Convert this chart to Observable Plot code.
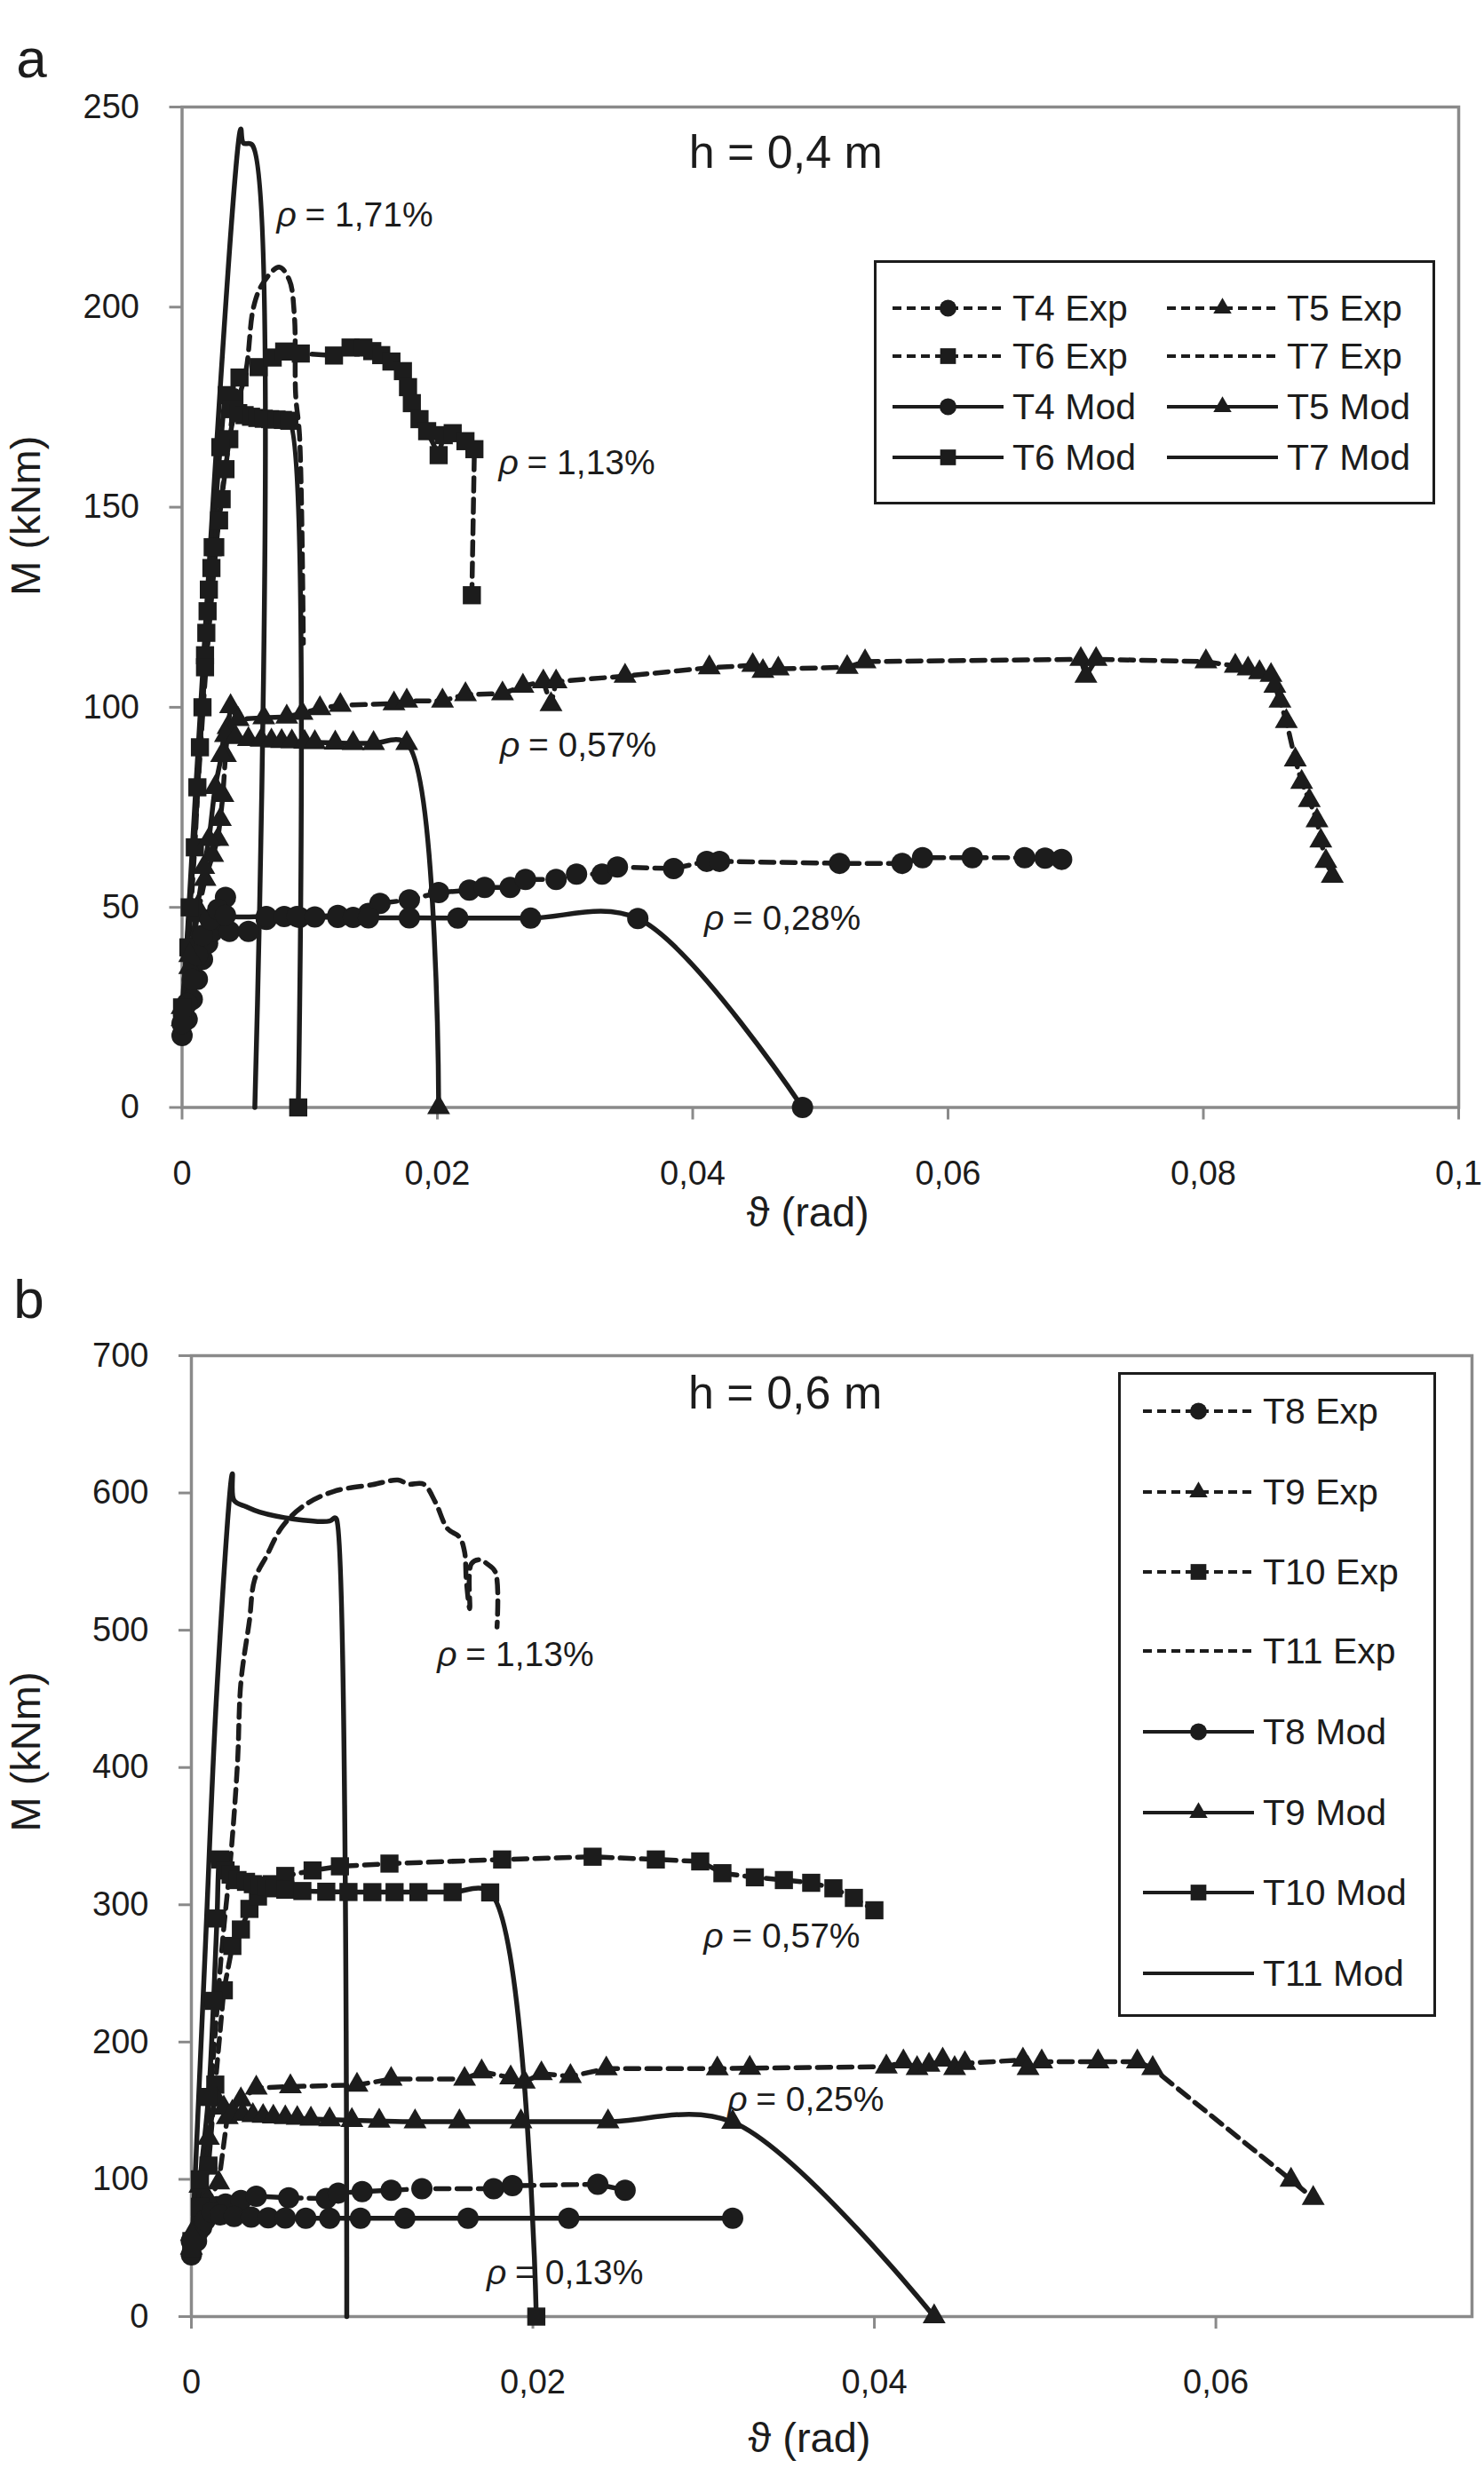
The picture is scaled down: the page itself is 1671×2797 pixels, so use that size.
<!DOCTYPE html>
<html>
<head>
<meta charset="utf-8">
<script src="https://cdn.jsdelivr.net/npm/d3@7"></script>
<script src="https://cdn.jsdelivr.net/npm/@observablehq/plot@0.6"></script>
<style>
  body { margin: 0; background: #fff; }
  #page { position: relative; width: 1671px; height: 2797px; font-family: "Liberation Sans", Arial, sans-serif; color: #1c1c1c; }
  #page > svg { position: absolute; left: 0; }
  .legend { position: absolute; box-sizing: border-box; border: 3px solid #1c1c1c; background: #fff; }
  .legend .item { position: absolute; display: flex; align-items: center; height: 44px; font-size: 41px; white-space: nowrap; }
  .legend .item span { margin-left: 10px; }
</style>
</head>
<body>
<div id="page"></div>
<script>
// ---- panel a : h = 0,4 m  (theta in rad, M in kNm)
const T4_EXP = [[0,18],[0.0004,22],[0.0008,27],[0.0012,32],[0.0016,37],[0.002,41],[0.0024,44],[0.0029,47],[0.0034,52.5],[0.0037,44],[0.0052,44],[0.0066,47],[0.0092,47.5],[0.0122,48],[0.0146,48.5],[0.0155,51],[0.0178,51.9],[0.0201,53.7],[0.0225,54.3],[0.0237,55],[0.0257,55],[0.0269,57],[0.0293,57],[0.0309,58.3],[0.0329,58.3],[0.0341,60.1],[0.0385,59.7],[0.0411,61.5],[0.0421,61.5],[0.0515,61],[0.0564,61],[0.058,62.4],[0.0619,62.4],[0.066,62.4],[0.0676,62.3],[0.0689,62]];
const T4_MOD = [[0,21],[0.0004,26],[0.0008,32],[0.0012,38],[0.0016,43],[0.0022,47],[0.0028,49.5],[0.0034,48],[0.0066,47.7],[0.008,47.7],[0.009,47.7],[0.0104,47.6],[0.0122,47.5],[0.0134,47.5],[0.0146,47.4],[0.0178,47.4],[0.0216,47.3],[0.0273,47.3],[0.0357,47.2],[0.0486,0]];
const T5_EXP = [[0,22],[0.0006,35],[0.0012,48],[0.0018,57],[0.0024,63],[0.0028,67],[0.003,72],[0.0032,78],[0.0034,88],[0.0036,95],[0.0038,100.2],[0.0044,97],[0.0064,97.4],[0.0082,97.6],[0.0094,98.5],[0.0108,99.7],[0.0124,100.5],[0.0166,100.9],[0.0176,101.6],[0.0204,101.6],[0.0222,103.2],[0.0251,103.4],[0.0267,105.3],[0.0283,106.4],[0.0289,100.7],[0.0293,106.4],[0.0347,107.8],[0.0413,109.9],[0.0447,110.5],[0.0455,109],[0.0467,109.6],[0.0521,110],[0.0535,111.4],[0.0704,112],[0.0708,107.8],[0.0716,112],[0.0802,111.4],[0.0825,110.3],[0.0835,109.6],[0.0844,108.7],[0.0853,108],[0.0856,105.3],[0.086,101.6],[0.0865,96.5],[0.0872,86.9],[0.0877,81.3],[0.0883,76.7],[0.0889,71.7],[0.0892,66.6],[0.0896,61.5],[0.0901,57.8]];
const T5_MOD = [[0,25],[0.0006,38],[0.0012,50],[0.0017,60],[0.0021,67],[0.0026,80],[0.0031,88],[0.0034,93],[0.0042,92.5],[0.0052,92],[0.0062,91.8],[0.007,91.6],[0.0078,91.5],[0.0086,91.4],[0.0096,91.3],[0.0104,91.2],[0.012,91.1],[0.0134,91],[0.015,91],[0.0176,91],[0.0201,0]];
const T6_EXP = [[0,22],[0.0005,40],[0.001,65],[0.0014,90],[0.0016,100],[0.0018,113],[0.0019,118.6],[0.002,124],[0.0021,129.4],[0.0023,134.8],[0.0026,140],[0.0029,146.7],[0.0031,152],[0.0034,159.5],[0.0037,167],[0.0041,177],[0.0045,182.4],[0.006,185],[0.0071,187.4],[0.008,188.9],[0.0093,188.4],[0.0119,187.9],[0.0132,189.9],[0.0142,189.9],[0.0149,189],[0.0156,188],[0.0164,186.4],[0.0173,184],[0.0177,180],[0.018,176],[0.0186,172],[0.0192,169],[0.0201,163],[0.0205,168],[0.0212,168.5],[0.0222,166.5],[0.0229,164.5],[0.0227,128]];
const T6_MOD = [[0,25],[0.0006,50],[0.0012,80],[0.0018,110],[0.0024,140],[0.003,165],[0.0035,178],[0.0039,174.5],[0.0044,173.5],[0.0049,173],[0.0054,172.6],[0.0059,172.3],[0.0064,172.1],[0.0069,172],[0.0074,171.9],[0.0079,171.8],[0.0084,171.6],[0.0091,0]];
const T7_EXP = [[0,20],[0.001,68],[0.002,115],[0.003,150],[0.004,172],[0.005,184],[0.0056,200],[0.0063,205.8],[0.0076,210],[0.0084,206.8],[0.0088,197.8],[0.0089,178],[0.0092,168],[0.0095,116]];
const T7_MOD = [[0,20],[0.0046,244.5],[0.0048,241],[0.0055,240.5],[0.0057,0]];

// ---- panel b : h = 0,6 m
const T8_EXP = [[0,45],[0.0003,55],[0.0006,65],[0.001,75],[0.0015,80],[0.002,82],[0.0029,84.6],[0.0038,87.7],[0.0057,86.5],[0.0079,86],[0.0086,90],[0.01,91],[0.0117,92],[0.0135,93.2],[0.0177,93.2],[0.0188,95.4],[0.0238,96.4],[0.0254,92.1]];
const T8_MOD = [[0,55],[0.0004,62],[0.0008,70],[0.0012,76],[0.0017,74],[0.0025,73],[0.0035,72.5],[0.0045,72],[0.0055,71.8],[0.0067,71.6],[0.0081,71.6],[0.0099,71.6],[0.0125,71.6],[0.0162,71.6],[0.0221,71.6],[0.0317,71.6]];
const T9_EXP = [[0,50],[0.0005,70],[0.001,85],[0.0016,97.5],[0.0021,145],[0.0029,158],[0.0038,166.6],[0.0058,167.6],[0.0097,168.7],[0.0117,173],[0.016,173],[0.017,178.4],[0.0187,174],[0.0195,170.9],[0.0205,177],[0.0222,175],[0.0243,180.6],[0.0308,180.6],[0.0327,181],[0.0407,182],[0.0417,185.7],[0.0425,180.8],[0.0432,183.3],[0.044,187],[0.0447,180.8],[0.0453,184.5],[0.0487,187],[0.049,180.8],[0.0498,185.7],[0.0531,185.7],[0.0554,185.7],[0.0563,180.8],[0.0644,99.5],[0.0657,86.2]];
const T9_MOD = [[0,60],[0.0005,95],[0.001,130],[0.0015,158],[0.0019,152],[0.0024,149],[0.003,147.5],[0.0036,146.5],[0.0042,146],[0.0048,145.5],[0.0055,145],[0.0062,144.5],[0.007,144],[0.0081,143.5],[0.0094,143],[0.011,142.5],[0.0131,142],[0.0157,142],[0.0193,142],[0.0244,142],[0.0317,141.7],[0.0435,0]];
const T10_EXP = [[0,55],[0.0005,80],[0.001,110],[0.0014,169],[0.0019,237.7],[0.0024,270],[0.0029,282],[0.0034,297],[0.0039,306],[0.0047,315],[0.0055,321],[0.0071,325],[0.0087,328],[0.0116,330],[0.0182,333],[0.0235,335],[0.0272,333],[0.0298,331.6],[0.0311,323],[0.033,320],[0.0347,318],[0.0363,316],[0.0376,312],[0.0388,305],[0.04,296]];
const T10_MOD = [[0,50],[0.0005,100],[0.001,160],[0.0013,230],[0.0015,290],[0.0017,333],[0.002,325],[0.0023,322],[0.0027,318],[0.0032,316.7],[0.0036,315],[0.004,314],[0.0044,313],[0.0049,312],[0.0055,311],[0.0065,310],[0.0079,309.5],[0.0092,309.3],[0.0106,309.2],[0.0119,309.2],[0.0133,309.2],[0.0153,309.2],[0.0175,309],[0.0202,0]];
const T11_EXP = [[0,50],[0.001,150],[0.0018,270],[0.0023,334],[0.0027,403],[0.0029,462],[0.0034,507],[0.0037,536.6],[0.0044,554],[0.0053,575],[0.0065,590],[0.0083,601],[0.0106,606],[0.0121,609.4],[0.0127,606.4],[0.0136,606.4],[0.0143,593],[0.015,574],[0.0157,567.8],[0.016,557],[0.0161,536.6],[0.0163,515.7],[0.0164,548.5],[0.0169,551.4],[0.0173,548.5],[0.0178,542.5],[0.0179,502.4]];
const T11_MOD = [[0,40],[0.0008,264],[0.0015,458],[0.0024,614],[0.0025,594.5],[0.0032,590],[0.004,586],[0.006,581],[0.0081,579.6],[0.0084,582],[0.0085,581],[0.0091,0]];

// tick values
const X_TICKS_A = [0, 0.02, 0.04, 0.06, 0.08, 0.1];
const Y_TICKS_A = [0, 50, 100, 150, 200, 250];
const X_TICKS_B = [0, 0.02, 0.04, 0.06];
const Y_TICKS_B = [0, 100, 200, 300, 400, 500, 600, 700];

// annotations: reinforcement ratio labels
const RHO_X_A = [0.0074, 0.0248, 0.0249, 0.0409];
const RHO_Y_A = [223, 161, 90.5, 47.2];
const RHO_TXT_A = ["= 1,71%", "= 1,13%", "= 0,57%", "= 0,28%"];
const RHO_X_B = [0.0144, 0.0300, 0.0314, 0.0173];
const RHO_Y_B = [482, 277, 158, 32];
const RHO_TXT_B = ["= 1,13%", "= 0,57%", "= 0,25%", "= 0,13%"];

const INK = "#1c1c1c";
const GRAY = "#8a8a8a";
const FONT = "'Liberation Sans', Arial, sans-serif";
const comma = d => String(d).replace(".", ",");

const seriesA = [
  {name: "T4 Exp", data: T4_EXP, dash: true, symbol: "circle"},
  {name: "T5 Exp", data: T5_EXP, dash: true, symbol: "triangle"},
  {name: "T6 Exp", data: T6_EXP, dash: true, symbol: "square"},
  {name: "T7 Exp", data: T7_EXP, dash: true, symbol: null},
  {name: "T4 Mod", data: T4_MOD, dash: false, symbol: "circle"},
  {name: "T5 Mod", data: T5_MOD, dash: false, symbol: "triangle"},
  {name: "T6 Mod", data: T6_MOD, dash: false, symbol: "square"},
  {name: "T7 Mod", data: T7_MOD, dash: false, symbol: null}
];
const seriesB = [
  {name: "T8 Exp", data: T8_EXP, dash: true, symbol: "circle"},
  {name: "T9 Exp", data: T9_EXP, dash: true, symbol: "triangle"},
  {name: "T10 Exp", data: T10_EXP, dash: true, symbol: "square"},
  {name: "T11 Exp", data: T11_EXP, dash: true, symbol: null},
  {name: "T8 Mod", data: T8_MOD, dash: false, symbol: "circle"},
  {name: "T9 Mod", data: T9_MOD, dash: false, symbol: "triangle"},
  {name: "T10 Mod", data: T10_MOD, dash: false, symbol: "square"},
  {name: "T11 Mod", data: T11_MOD, dash: false, symbol: null}
];

const dotR = {circle: 12, square: 11.5, triangle: 9.6};

function drawPanel(p) {
  const rho = p.rhoX.map((x, i) => ({x, y: p.rhoY[i], t: p.rhoTxt[i]}));
  const marks = [
    Plot.frame({stroke: GRAY, strokeWidth: 3.5}),
    Plot.axisY({ticks: p.yTicks, tickSize: 14, tickPadding: 34, fontSize: 38, stroke: GRAY, strokeWidth: 3, fill: INK, label: null}),
    Plot.axisX({ticks: p.xTicks, tickSize: 14, tickPadding: 46, fontSize: 38, stroke: GRAY, strokeWidth: 3, fill: INK, tickFormat: comma, label: null})
  ];
  for (const s of p.series) {
    // measured series with markers joined point to point, the rest smoothed
    marks.push(Plot.line(s.data, {
      x: d => d[0], y: d => d[1], stroke: INK, strokeWidth: 5.5,
      strokeDasharray: s.dash ? "15,9" : null,
      curve: s.dash && s.symbol ? "linear" : "catmull-rom"
    }));
  }
  for (const s of p.series) {
    if (!s.symbol) continue;
    marks.push(Plot.dot(s.data, {x: d => d[0], y: d => d[1], symbol: s.symbol, r: dotR[s.symbol], fill: INK, stroke: null}));
  }
  marks.push(
    Plot.text(rho, {x: "x", y: "y", text: () => "ρ", fontStyle: "italic", fontSize: 39, textAnchor: "start", fill: INK}),
    Plot.text(rho, {x: "x", y: "y", text: "t", fontSize: 39, textAnchor: "start", dx: 32, fill: INK}),
    Plot.text([p.heading], {x: p.headX, y: p.headY, text: d => d, fontSize: 52, textAnchor: "start", fill: INK}),
    Plot.text(["M (kNm)"], {frameAnchor: "left", text: d => d, rotate: -90, dx: p.yLabelDx, dy: p.yLabelDy, fontSize: 47, fill: INK}),
    Plot.text(["ϑ (rad)"], {frameAnchor: "bottom", text: d => d, dy: p.xLabelDy, dx: p.xLabelDx, fontSize: 47, fill: INK}),
    Plot.text([p.tag], {frameAnchor: "top-left", text: d => d, dx: p.tagDx, dy: p.tagDy, fontSize: 62, textAnchor: "middle", fill: INK})
  );
  return Plot.plot({
    width: 1671, height: p.height,
    marginLeft: p.margin[0], marginRight: p.margin[1], marginTop: p.margin[2], marginBottom: p.margin[3],
    x: {domain: p.xDomain, axis: null},
    y: {domain: p.yDomain, axis: null},
    style: {fontFamily: FONT, background: "white", color: INK, overflow: "visible"},
    marks
  });
}

const SYMBOLS = {circle: d3.symbolCircle, square: d3.symbolSquare, triangle: d3.symbolTriangle};
const legendR = {circle: 9.5, square: 10, triangle: 7.6};

function swatch(s) {
  const w = 125, h = 44;
  const svg = d3.create("svg").attr("width", w).attr("height", h);
  svg.append("line").attr("x1", 0).attr("x2", w).attr("y1", h / 2).attr("y2", h / 2)
    .attr("stroke", INK).attr("stroke-width", 4)
    .attr("stroke-dasharray", s.dash ? "10,6" : null);
  if (s.symbol) {
    const r = legendR[s.symbol];
    svg.append("path").attr("transform", `translate(${w / 2},${h / 2})`)
      .attr("d", d3.symbol(SYMBOLS[s.symbol], Math.PI * r * r)()).attr("fill", INK);
  }
  return svg.node();
}

function drawLegend(page, series, box, cols, rows) {
  const div = page.append("div").attr("class", "legend")
    .style("left", box[0] + "px").style("top", box[1] + "px")
    .style("width", box[2] + "px").style("height", box[3] + "px");
  series.forEach((s, i) => {
    const c = cols.length > 1 ? i % cols.length : 0;
    const r = cols.length > 1 ? Math.floor(i / cols.length) : i;
    const item = div.append("div").attr("class", "item")
      .style("left", cols[c] + "px").style("top", (rows[r] - 22) + "px");
    item.append(() => swatch(s));
    item.append("span").text(s.name);
  });
}

const page = d3.select("#page");

const a = drawPanel({
  series: seriesA, height: 1400, margin: [204.5, 29, 120, 153.5],
  xDomain: [0, 0.1], yDomain: [0, 250], xTicks: X_TICKS_A, yTicks: Y_TICKS_A,
  rhoX: RHO_X_A, rhoY: RHO_Y_A, rhoTxt: RHO_TXT_A,
  heading: "h = 0,4 m", headX: 0.0397, headY: 238.5,
  yLabelDx: -175, yLabelDy: -13, xLabelDy: 134, xLabelDx: -14,
  tag: "a", tagDx: -169.5, tagDy: -78
});
a.style.top = "0px";
page.append(() => a);

const b = drawPanel({
  series: seriesB, height: 1397, margin: [215, 14, 126, 189],
  xDomain: [0, 0.075], yDomain: [0, 700], xTicks: X_TICKS_B, yTicks: Y_TICKS_B,
  rhoX: RHO_X_B, rhoY: RHO_Y_B, rhoTxt: RHO_TXT_B,
  heading: "h = 0,6 m", headX: 0.0291, headY: 672,
  yLabelDx: -186, yLabelDy: -5, xLabelDy: 152, xLabelDx: -25,
  tag: "b", tagDx: -183, tagDy: -87
});
b.style.top = "1400px";
page.append(() => b);

drawLegend(page, seriesA, [984, 293, 632, 275], [18, 327], [51, 105, 162, 219]);
drawLegend(page, seriesB, [1259, 1545, 358, 726], [25], [41, 132, 222, 311, 402, 493, 583, 674]);
</script>
</body>
</html>
